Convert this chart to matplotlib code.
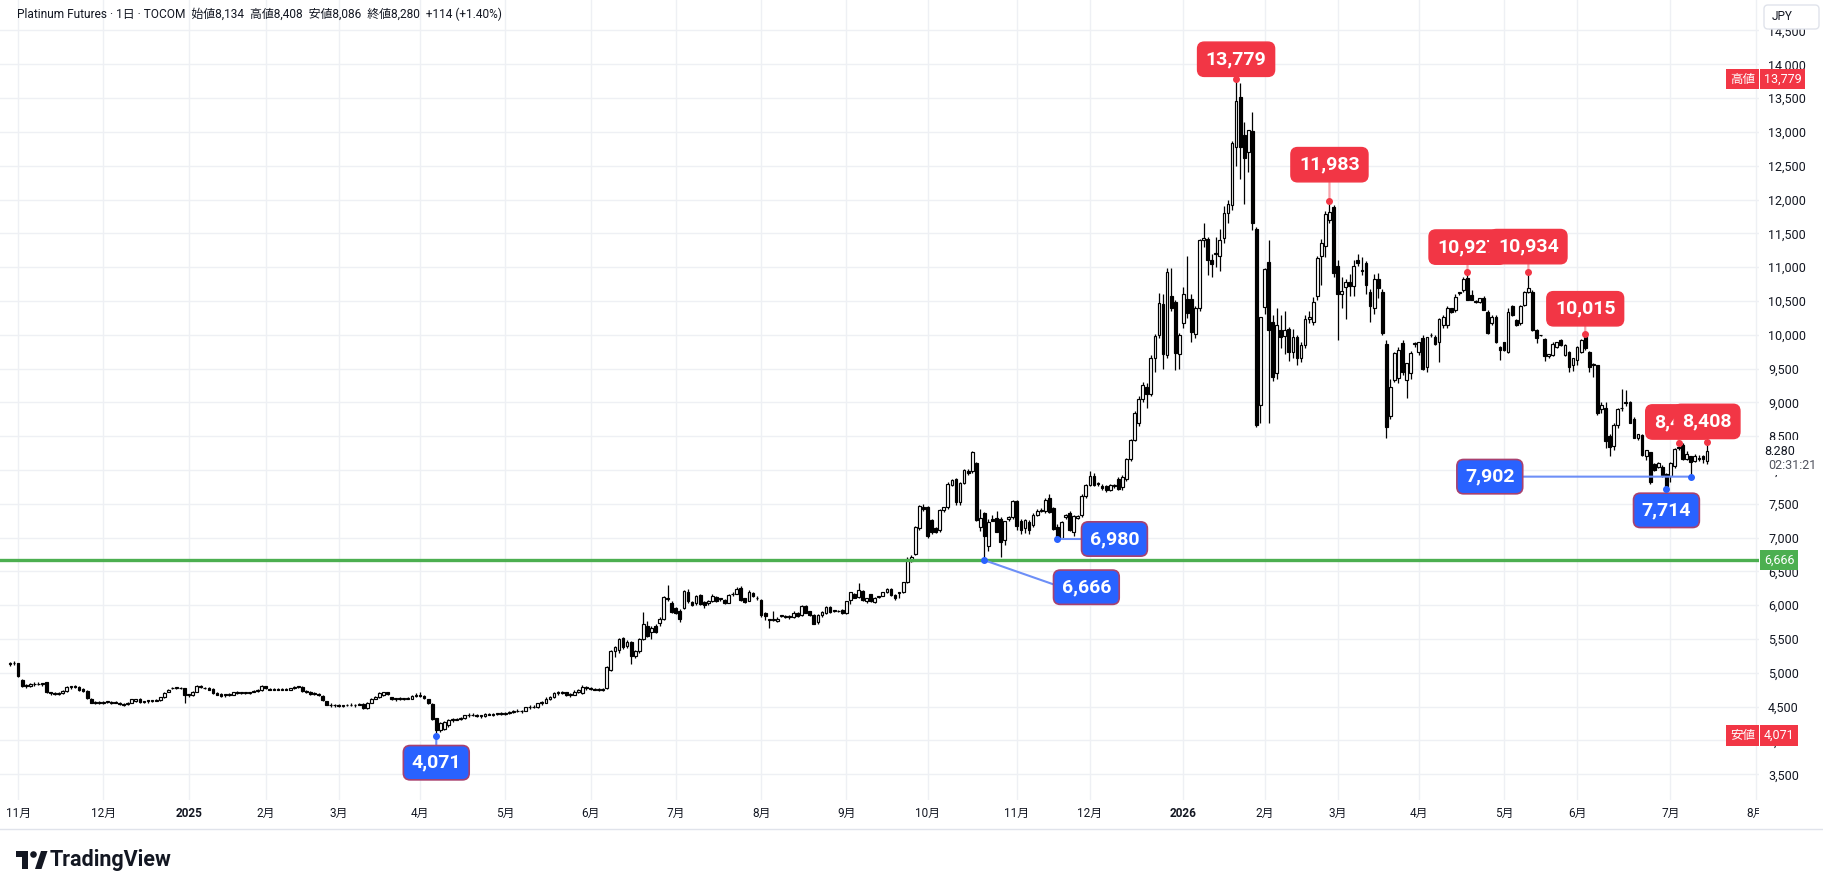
import matplotlib
matplotlib.use("Agg")
import numpy as np
import matplotlib.pyplot as plt
from matplotlib.patches import Rectangle, Circle, Polygon, FancyBboxPatch
from matplotlib.transforms import blended_transform_factory

plt.rcParams['font.family'] = ['Roboto', 'Noto Sans CJK JP', 'DejaVu Sans']

# --- daily OHLC, 2024-10-30 .. 2026-07 (JPY/g) ---
opens = [
    5130, 5140, 5140, 4900, 4820, 4800, 4840, 4830, 4840, 4860, 4710, 4700, 4690, 4700, 4730, 4790, 4810, 4790, 4760, 4730,
    4620, 4570, 4560, 4550, 4570, 4560, 4570, 4550, 4540, 4540, 4560, 4580, 4620, 4570, 4580, 4590, 4590, 4600, 4640, 4720,
    4770, 4780, 4780, 4770, 4670, 4670, 4720, 4800, 4780, 4780, 4760, 4700, 4690, 4670, 4680, 4680, 4710, 4700, 4700, 4700,
    4720, 4730, 4740, 4800, 4760, 4750, 4760, 4750, 4760, 4750, 4770, 4790, 4790, 4730, 4720, 4690, 4690, 4660, 4580, 4530,
    4520, 4530, 4510, 4520, 4530, 4520, 4530, 4540, 4480, 4560, 4620, 4640, 4680, 4710, 4640, 4610, 4620, 4610, 4620, 4620,
    4660, 4670, 4660, 4610, 4540, 4330, 4150, 4170, 4230, 4300, 4310, 4320, 4330, 4370, 4380, 4370, 4360, 4360, 4390, 4380,
    4390, 4400, 4390, 4410, 4420, 4440, 4430, 4440, 4490, 4500, 4490, 4550, 4560, 4620, 4640, 4700, 4710, 4710, 4670, 4680,
    4720, 4700, 4790, 4770, 4760, 4750,
    4750, 4770, 5040, 5330, 5340, 5510, 5400, 5450, 5250, 5320, 5500, 5700, 5610, 5700, 5740, 5800, 6090, 6040, 5960, 5920,
    5960, 6200, 6050, 6040, 6150, 6050, 6030, 6060, 6120, 6090, 6080, 6040, 6160, 6170, 6260, 6100, 6070, 6180, 6100, 6080,
    5880, 5780, 5780, 5770, 5840, 5830, 5830, 5820, 5890, 5850, 5990, 5910, 5860, 5750, 5850, 5880, 5980, 5920, 5920, 5930,
    5880, 6080, 6170, 6120, 6210, 6060, 6160, 6050, 6120, 6140, 6190, 6240, 6150, 6180, 6190, 6340, 6660,
    6760, 7140, 7450, 7460, 7260, 7140, 7110, 7410, 7450, 7780, 7870, 7520, 7810, 7980, 7980, 8110, 7160, 7360, 6870, 7280,
    7290, 7280, 6960, 7270, 7300, 7540, 7250, 7140, 7230, 7190, 7340, 7400, 7390, 7590, 7440, 7160, 6990, 7300, 7370, 7080,
    7290, 7330, 7620, 7780, 7910, 7800, 7760, 7760, 7700, 7760, 7870, 7750, 7860, 8160, 8450,
    8700, 9050, 9230, 9130, 9660, 10000, 10450, 9700, 10580, 10480, 9720, 10170, 10530, 10530, 10010, 10390, 11400, 11420, 11110, 11200,
    11160, 11430, 11800, 11920, 12770, 13510, 12950, 12710, 13020, 11570, 8960, 10410, 11080, 10190, 9440, 10070, 9980, 10080, 9750, 9970,
    9650, 9850, 10230, 10190, 10580, 11160, 11310, 11700, 11890, 11020, 10600, 10700, 10780, 10720, 11100, 10960, 11060, 10630, 10390, 10830,
    10630, 9860, 8800, 9330,
    9360, 9880, 9330, 9430, 9870, 9750, 9950, 9530, 9990, 9970, 9900, 10140, 10140, 10390, 10370, 10620, 10660, 10840, 10590, 10490,
    10490, 10540, 10340, 10180, 10270, 9820, 9890, 9750, 10420, 10220, 10170, 10440, 10640, 10640, 10070, 9990, 9940, 9680, 9700, 9820,
    9920, 9700, 9750, 9550, 9620, 9750, 9990, 9750, 9560, 9550,
    8900, 8910, 8510, 8360, 8660, 8910, 8990, 9000, 8760, 8480, 8520, 8200, 8260, 8090, 8050, 8050, 7940, 7910, 8060, 8330,
    8370, 8160, 8200, 8140, 8170, 8200, 8134,
]
highs = [
    5160, 5170, 5150, 4910, 4840, 4850, 4860, 4860, 4850, 4870, 4720, 4710, 4720, 4740, 4800, 4810, 4820, 4800, 4780, 4740,
    4630, 4580, 4580, 4580, 4590, 4580, 4590, 4570, 4560, 4570, 4620, 4620, 4630, 4590, 4600, 4600, 4620, 4650, 4720, 4760,
    4790, 4790, 4790, 4780, 4690, 4730, 4820, 4820, 4790, 4790, 4770, 4710, 4700, 4690, 4700, 4720, 4730, 4720, 4720, 4720,
    4740, 4760, 4820, 4810, 4780, 4770, 4770, 4770, 4770, 4780, 4800, 4810, 4800, 4740, 4730, 4710, 4700, 4670, 4590, 4550,
    4540, 4540, 4530, 4540, 4550, 4540, 4550, 4550, 4570, 4630, 4660, 4710, 4720, 4720, 4650, 4630, 4640, 4630, 4640, 4680,
    4700, 4720, 4670, 4620, 4550, 4340, 4280, 4290, 4320, 4330, 4340, 4350, 4380, 4400, 4400, 4390, 4380, 4400, 4410, 4400,
    4410, 4420, 4420, 4430, 4450, 4460, 4450, 4500, 4520, 4520, 4560, 4580, 4640, 4660, 4720, 4730, 4730, 4720, 4700, 4740,
    4760, 4820, 4810, 4790, 4780, 4770,
    4770, 5100, 5340, 5400, 5520, 5530, 5480, 5470, 5340, 5520, 5900, 5760, 5690, 5720, 5830, 6130, 6300, 6060, 5980, 5940,
    6220, 6240, 6070, 6150, 6160, 6060, 6080, 6170, 6140, 6110, 6090, 6160, 6190, 6270, 6280, 6110, 6220, 6200, 6130, 6090,
    5900, 5790, 5920, 5820, 5860, 5850, 5850, 5910, 5900, 6000, 6010, 5920, 5870, 5870, 5910, 5990, 5990, 5930, 5930, 5940,
    6070, 6200, 6180, 6330, 6220, 6110, 6170, 6120, 6140, 6200, 6260, 6250, 6160, 6200, 6350, 6710, 6740,
    7170, 7480, 7500, 7470, 7280, 7160, 7420, 7460, 7820, 7860, 7880, 7820, 8010, 8010, 8280, 8120, 7430, 7380, 7270, 7340,
    7400, 7300, 7250, 7320, 7550, 7560, 7270, 7280, 7260, 7360, 7420, 7440, 7580, 7650, 7460, 7200, 7250, 7350, 7390, 7330,
    7340, 7640, 7800, 7990, 7950, 7830, 7800, 7780, 7800, 7800, 7890, 7920, 8180, 8460, 8870,
    9100, 9300, 9280, 9700, 10010, 10620, 10600, 10990, 10990, 10520, 10020, 10700, 11170, 10600, 10420, 11420, 11650, 11450, 11200, 11450,
    11560, 11900, 12000, 12870, 13779, 13720, 13150, 13030, 13290, 11600, 10270, 10990, 11400, 10290, 10400, 10290, 10350, 10120, 10080, 10000,
    9900, 10290, 10350, 10560, 11170, 11420, 11830, 11983, 11920, 11100, 10850, 10830, 10900, 11100, 11200, 11150, 11090, 10680, 10900, 10920,
    10680, 9920, 9350, 9740,
    9820, 9920, 9590, 9760, 9900, 9900, 10000, 9960, 10030, 10000, 10250, 10290, 10430, 10400, 10600, 10640, 10860, 10927, 10660, 10510,
    10550, 10570, 10360, 10290, 10290, 9840, 9900, 10400, 10440, 10240, 10440, 10650, 10934, 10660, 10080, 10000, 9950, 9720, 9900, 9900,
    9940, 9860, 9760, 9660, 9830, 9940, 10015, 9760, 9580, 9560,
    9000, 9000, 8530, 8700, 8920, 9200, 9180, 9020, 8780, 8540, 8530, 8300, 8270, 8100, 8120, 8070, 7950, 8120, 8330, 8400,
    8400, 8280, 8210, 8230, 8220, 8220, 8408,
]
lows = [
    5100, 5120, 4940, 4790, 4770, 4790, 4810, 4820, 4800, 4700, 4680, 4670, 4670, 4690, 4720, 4760, 4780, 4730, 4720, 4620,
    4550, 4540, 4540, 4540, 4550, 4540, 4550, 4530, 4510, 4520, 4550, 4570, 4560, 4560, 4560, 4570, 4580, 4590, 4630, 4710,
    4760, 4760, 4760, 4560, 4650, 4660, 4710, 4780, 4760, 4740, 4690, 4670, 4650, 4650, 4660, 4670, 4690, 4690, 4690, 4690,
    4710, 4720, 4730, 4760, 4740, 4740, 4740, 4740, 4740, 4740, 4760, 4770, 4720, 4700, 4680, 4680, 4660, 4590, 4520, 4500,
    4500, 4490, 4500, 4510, 4510, 4500, 4520, 4470, 4470, 4550, 4610, 4630, 4660, 4680, 4600, 4590, 4600, 4600, 4610, 4610,
    4640, 4650, 4620, 4540, 4310, 4071, 4120, 4150, 4200, 4280, 4300, 4300, 4320, 4350, 4360, 4350, 4340, 4350, 4370, 4360,
    4370, 4380, 4380, 4390, 4400, 4420, 4410, 4430, 4470, 4480, 4480, 4530, 4550, 4600, 4630, 4680, 4690, 4660, 4650, 4670,
    4700, 4690, 4750, 4740, 4740, 4730,
    4730, 4760, 5030, 5230, 5300, 5360, 5370, 5130, 5220, 5300, 5480, 5530, 5500, 5590, 5700, 5780, 6060, 5880, 5870, 5750,
    5940, 6040, 5990, 6010, 6010, 5960, 6010, 6050, 6050, 6070, 6020, 6030, 6140, 6160, 6060, 6040, 6060, 6120, 6080, 5820,
    5780, 5670, 5760, 5750, 5820, 5810, 5800, 5810, 5830, 5840, 5880, 5840, 5720, 5730, 5830, 5870, 5890, 5900, 5900, 5870,
    5870, 6020, 6100, 6100, 6060, 6040, 6050, 6030, 6110, 6130, 6180, 6140, 6080, 6100, 6180, 6330, 6640,
    6740, 7120, 7400, 7000, 7060, 7070, 7090, 7380, 7430, 7760, 7480, 7480, 7790, 7930, 7960, 7240, 7100, 6666, 6800, 7240,
    7080, 6720, 6890, 7250, 7280, 7110, 7060, 7070, 7060, 7150, 7320, 7380, 7370, 7360, 7110, 6980, 6985, 7280, 7100, 7020,
    7270, 7300, 7590, 7760, 7770, 7760, 7700, 7680, 7690, 7740, 7700, 7700, 7840, 8140, 8430,
    8650, 9000, 8910, 9100, 9450, 9950, 9490, 9650, 10350, 9480, 9500, 10100, 10250, 9900, 9950, 10350, 11300, 10880, 10850, 11000,
    10950, 11350, 11650, 11850, 12500, 12310, 11930, 12400, 11550, 8640, 8700, 10300, 8690, 9320, 9350, 9800, 9720, 9610, 9650, 9560,
    9600, 9800, 10180, 10150, 10520, 10740, 11150, 11650, 10850, 9920, 10400, 10240, 10580, 10570, 11020, 10880, 10600, 10190, 10300, 10540,
    9990, 8480, 8750, 9300,
    9280, 9400, 9060, 9350, 9820, 9700, 9480, 9450, 9960, 9850, 9600, 10100, 10100, 10320, 10340, 10590, 10640, 10510, 10510, 10470,
    10470, 10360, 10010, 10150, 9880, 9620, 9760, 9730, 10280, 10130, 10150, 10420, 10620, 10050, 9880, 9980, 9610, 9660, 9680, 9800,
    9830, 9690, 9450, 9460, 9560, 9730, 9780, 9450, 9380, 8820,
    8850, 8330, 8200, 8290, 8620, 8880, 8950, 8700, 8470, 8450, 8210, 8150, 7800, 7990, 8030, 7900, 7714, 7820, 8030, 8300,
    8150, 8150, 7902, 8120, 8130, 8110, 8086,
]
closes = [
    5140, 5150, 4950, 4800, 4810, 4840, 4830, 4840, 4840, 4710, 4700, 4690, 4700, 4730, 4790, 4800, 4790, 4740, 4730, 4630,
    4560, 4550, 4560, 4570, 4570, 4570, 4560, 4540, 4530, 4560, 4610, 4610, 4570, 4580, 4590, 4590, 4600, 4640, 4700, 4750,
    4780, 4780, 4770, 4680, 4670, 4720, 4800, 4790, 4770, 4750, 4700, 4680, 4660, 4680, 4680, 4710, 4700, 4710, 4700, 4710,
    4730, 4750, 4800, 4770, 4750, 4760, 4750, 4760, 4750, 4770, 4790, 4790, 4730, 4710, 4690, 4700, 4670, 4600, 4530, 4520,
    4530, 4510, 4520, 4530, 4520, 4530, 4540, 4480, 4560, 4620, 4650, 4700, 4710, 4690, 4610, 4620, 4610, 4620, 4630, 4660,
    4670, 4660, 4630, 4550, 4320, 4160, 4260, 4270, 4300, 4310, 4320, 4330, 4370, 4380, 4370, 4360, 4370, 4390, 4380, 4390,
    4400, 4390, 4410, 4420, 4440, 4430, 4440, 4490, 4500, 4490, 4550, 4560, 4620, 4640, 4700, 4710, 4700, 4670, 4690, 4720,
    4740, 4790, 4770, 4760, 4750, 4760,
    4750, 5090, 5330, 5380, 5500, 5380, 5460, 5250, 5320, 5500, 5730, 5550, 5660, 5600, 5800, 6120, 6100, 5900, 5880, 5800,
    6210, 6060, 6000, 6130, 6020, 6000, 6070, 6130, 6060, 6090, 6030, 6150, 6170, 6240, 6080, 6050, 6200, 6130, 6100, 5860,
    5840, 5780, 5780, 5800, 5840, 5830, 5830, 5890, 5840, 5990, 5890, 5850, 5730, 5860, 5900, 5980, 5900, 5920, 5910, 5880,
    6060, 6190, 6110, 6220, 6080, 6100, 6060, 6110, 6130, 6190, 6240, 6150, 6100, 6190, 6340, 6690, 6720,
    7150, 7470, 7430, 7020, 7080, 7090, 7410, 7450, 7790, 7850, 7520, 7810, 8000, 7950, 8270, 7260, 7290, 7030, 7230, 7250,
    7090, 6940, 7240, 7310, 7540, 7170, 7110, 7260, 7110, 7340, 7390, 7400, 7560, 7380, 7130, 6990, 7230, 7340, 7120, 7320,
    7320, 7620, 7780, 7910, 7780, 7800, 7740, 7700, 7780, 7770, 7720, 7890, 8170, 8450, 8850,
    9050, 9250, 9130, 9650, 9980, 10470, 9720, 10930, 10400, 9730, 9990, 10610, 10320, 10040, 10390, 11400, 11430, 11100, 11040, 11210,
    11400, 11800, 11930, 12830, 13460, 12780, 12620, 13030, 11660, 8660, 10260, 10980, 10070, 9380, 10150, 9970, 10070, 9750, 9970, 9650,
    9850, 10230, 10260, 10490, 11140, 11350, 11780, 11820, 10920, 10600, 10650, 10780, 10720, 11020, 11060, 10950, 10730, 10420, 10830, 10690,
    10030, 8630, 9230, 9730,
    9770, 9450, 9580, 9730, 9870, 9890, 9500, 9960, 10000, 9870, 10240, 10270, 10390, 10340, 10560, 10620, 10830, 10520, 10520, 10490,
    10540, 10370, 10020, 10260, 9900, 9780, 9780, 10340, 10290, 10140, 10430, 10640, 10690, 10070, 9950, 9990, 9680, 9710, 9860, 9890,
    9850, 9850, 9530, 9650, 9820, 9920, 9800, 9530, 9550, 8840,
    8960, 8430, 8340, 8660, 8900, 8920, 8990, 8700, 8480, 8540, 8220, 8290, 7820, 8000, 8110, 7920, 7730, 8110, 8310, 8340,
    8170, 8240, 8120, 8200, 8170, 8166, 8280,
]

month_bars = [2, 23, 44, 63, 81, 101, 122, 143, 164, 185, 206, 226, 248, 266, 289, 309, 327, 347, 368, 386, 409, 430]
month_labels = ['11月', '12月', '2025', '2月', '3月', '4月', '5月', '6月', '7月', '8月', '9月',
                '10月', '11月', '12月', '2026', '2月', '3月', '4月', '5月', '6月', '7月', '8月']
price_ticks = list(range(3500, 15000, 500))

high_marks = [302, 325, 359, 374, 388, 411, 418]
low_marks = [105, 240, 258, 408, 414]
line_level = 6666
title = "Platinum Futures · 1日 · TOCOM"
countdown = "02:31:21"

# label placement (pixels from the marked point)
high_offsets = [(0, 20), (0, 36), (0, 25), (0, 25), (0, 25), (0, 21), (0, 21)]
low_offsets = [(0, -27), (102, -27), (57, 0), (0, -21), (-201, 0)]
low_relpos = [(0.5, 1), (0, 0.5), (0, 0.5), (0.5, 1), (1, 0.5)]

RED = '#f23645'
BLUE = '#2962ff'
GREEN = '#4caf50'
INK = '#131722'
GRID = '#eef0f4'

o, h, l, c = map(np.array, (opens, highs, lows, closes))
x = np.arange(len(c))

fig = plt.figure(figsize=(18.24, 8.90), dpi=100, facecolor='white')
ax = fig.add_axes([0, 90 / 890, 1759 / 1824, 800 / 890])
ax.set_xlim(-2.46, 430.8)
ax.set_ylim(3120, 14951)

for s in ax.spines.values():
    s.set_visible(False)
ax.set_axisbelow(True)
ax.grid(True, color=GRID, lw=1)

ax.set_yticks(price_ticks)
ax.set_yticklabels([f"{v:,}" for v in price_ticks])
ax.yaxis.tick_right()
ax.tick_params(axis='y', length=0, pad=6.5, labelsize=9, labelcolor=INK)
ax.set_xticks(month_bars)
ax.set_xticklabels(month_labels)
ax.tick_params(axis='x', length=0, pad=5, labelsize=8.5, labelcolor=INK)
for lbl in ax.get_xticklabels():
    if lbl.get_text().isdigit():
        lbl.set_fontweight('bold')

# --- candles ---
up = c >= o
ax.vlines(x, l, h, color='black', lw=0.9, zorder=2)
ax.bar(x, np.maximum(np.abs(c - o), 12), bottom=np.minimum(o, c), width=0.68,
       color=np.where(up, 'white', 'black'), edgecolor='black', linewidth=0.85, zorder=3)

# --- horizontal level ---
ax.axhline(line_level, color=GREEN, lw=2.4, zorder=4)

trans = blended_transform_factory(ax.transAxes, ax.transData)
px = 1 / 1759


def scale_tag(y, s, fc, fg='white', side='right', pad=0.3):
    if side == 'right':
        ax.text(1 + 5 * px, y, s, transform=trans, ha='left', va='center', fontsize=9,
                color=fg, bbox=dict(boxstyle=f'square,pad={pad}', fc=fc, ec='none'), zorder=10, clip_on=False)
    else:
        ax.text(1 - 4 * px, y, s, transform=trans, ha='right', va='center', fontsize=9,
                color=fg, bbox=dict(boxstyle=f'square,pad={pad}', fc=fc, ec='none'), zorder=10, clip_on=False)


scale_tag(line_level, f"{line_level:,}", GREEN)
scale_tag(h.max(), f"{h.max():,}", RED)
scale_tag(h.max(), '高値', RED, side='left')
scale_tag(l.min(), f"{l.min():,}", RED)
scale_tag(l.min(), '安値', RED, side='left')
scale_tag(c[-1], f"{c[-1]:,}", 'white', fg=INK, pad=0.4)
ax.annotate(countdown, xy=(1, c[-1]), xycoords=trans, xytext=(9, -14), textcoords='offset pixels',
            ha='left', va='center', fontsize=9, color='#50535e',
            bbox=dict(boxstyle='square,pad=0.3', fc='white', ec='none'), zorder=10, annotation_clip=False)

# --- high / low callouts ---
for i, (dx, dy) in zip(high_marks, high_offsets):
    ax.annotate(f"{h[i]:,}", xy=(i, h[i]), xytext=(dx, dy), textcoords='offset pixels',
                ha='center', va='center', fontsize=14, fontweight='bold', color='white',
                bbox=dict(boxstyle='round,pad=0.42,rounding_size=0.35', fc=RED, ec=RED, lw=1),
                arrowprops=dict(arrowstyle='-', color='#f7a3ab', lw=1.6, shrinkA=0, shrinkB=2), zorder=6)
    ax.plot(i, h[i], 'o', ms=4, color=RED, zorder=7)

for i, (dx, dy), rp in zip(low_marks, low_offsets, low_relpos):
    ax.annotate(f"{l[i]:,}", xy=(i, l[i]), xytext=(dx, dy), textcoords='offset pixels',
                ha='center', va='center', fontsize=14, fontweight='bold', color='white',
                bbox=dict(boxstyle='round,pad=0.42,rounding_size=0.35', fc=BLUE, ec='#a8416f', lw=1.2),
                arrowprops=dict(arrowstyle='-', color='#6d8ff7', lw=1.5, shrinkA=0, shrinkB=2, relpos=rp),
                zorder=6)
    ax.plot(i, l[i], 'o', ms=4, color=BLUE, zorder=7)

# --- page furniture in pixel space ---
ov = fig.add_axes([0, 0, 1, 1], zorder=5)
ov.set_xlim(0, 1824)
ov.set_ylim(890, 0)
ov.axis('off')

chg = c[-1] - c[-2]
header = (f"{title}  始値{o[-1]:,}  高値{h[-1]:,}  安値{l[-1]:,}  終値{c[-1]:,}  "
          f"{chg:+,} ({chg / c[-2] * 100:+.2f}%)")
ov.text(17, 14, header, fontsize=8.6, va='center', ha='left', color=INK)

ov.add_patch(FancyBboxPatch((1764, 5), 55, 24, boxstyle='round,pad=0,rounding_size=4',
                            fc='white', ec='#e0e3eb', lw=1))
ov.text(1772, 17, 'JPY', fontsize=8.5, va='center', color=INK)

ov.add_patch(Rectangle((1759, 803), 65, 24, fc='white', ec='none'))
ov.plot([0, 1824], [829, 829], color='#e0e3eb', lw=1)

# TradingView mark
ov.add_patch(Rectangle((16, 851), 12, 6, fc=INK, ec='none'))
ov.add_patch(Rectangle((22, 851), 6, 18, fc=INK, ec='none'))
ov.add_patch(Circle((33.5, 854.5), 3.3, fc=INK, ec='none'))
ov.add_patch(Polygon([[35, 869], [41, 851], [47.5, 851], [41.5, 869]], closed=True, fc=INK, ec='none'))
ov.text(50, 860, 'TradingView', fontsize=15.5, fontweight='bold', va='center', ha='left', color=INK)

fig.savefig('out.png', dpi=100, facecolor='white')
